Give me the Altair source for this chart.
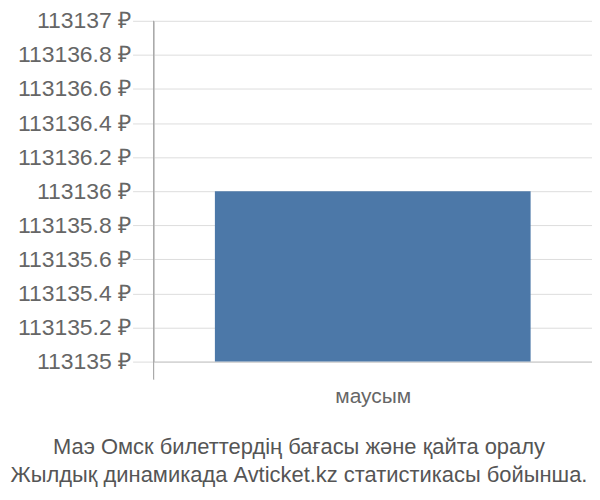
import altair as alt
import pandas as pd

categories = ["маусым"]
prices = [113136]
y_ticks = [113135, 113135.2, 113135.4, 113135.6, 113135.8, 113136,
           113136.2, 113136.4, 113136.6, 113136.8, 113137]
title_lines = ["Маэ Омск билеттердің бағасы және қайта оралу",
               "Жылдық динамикада Avticket.kz статистикасы бойынша."]

df = pd.DataFrame({"month": categories, "price": prices})
FONT = "Liberation Sans"

bars = alt.Chart(df).mark_bar(
    color="#4c78a8", width=alt.RelativeBandSize(0.72)
).encode(
    x=alt.X("month:N", title=None, sort=None,
            scale=alt.Scale(paddingInner=0, paddingOuter=0),
            axis=alt.Axis(labelAngle=0, labelFontSize=21, labelColor="#666",
                          labelFont=FONT, labelPadding=6,
                          domain=True, domainColor="#c8c8c8",
                          ticks=True, tickBand="extent", tickSize=18,
                          tickColor="#dddddd", grid=True, gridColor="#dddddd")),
    y=alt.Y("price:Q", title=None,
            scale=alt.Scale(domain=[113135, 113137], zero=False, nice=False,
                            clamp=True),
            axis=alt.Axis(values=y_ticks, labelFontSize=23, labelColor="#666",
                          labelFont=FONT, labelPadding=2,
                          labelExpr="format(datum.value, '.10~g') + ' ₽'",
                          domain=True, domainColor="#aaaaaa",
                          tickSize=21, tickColor="#dddddd",
                          grid=True, gridColor="#dddddd")),
)

left_line = alt.Chart(df).mark_rule(color="#aaaaaa").encode(
    x=alt.value(0), y=alt.value(0), y2=alt.value(360)
)

chart = alt.layer(bars, left_line).properties(
    width=440, height=342,
    autosize=alt.AutoSizeParams(type="none"),
    padding={"left": 146, "top": 12, "right": 0, "bottom": 130},
    title=alt.TitleParams(text=title_lines, orient="bottom", anchor="middle",
                          frame="group", dx=-74,
                          fontSize=22, color="#555", font=FONT,
                          fontWeight="normal", lineHeight=28, offset=31),
).configure_view(stroke=None)

chart.save("out.html", embed_options={"renderer": "svg", "actions": False})
